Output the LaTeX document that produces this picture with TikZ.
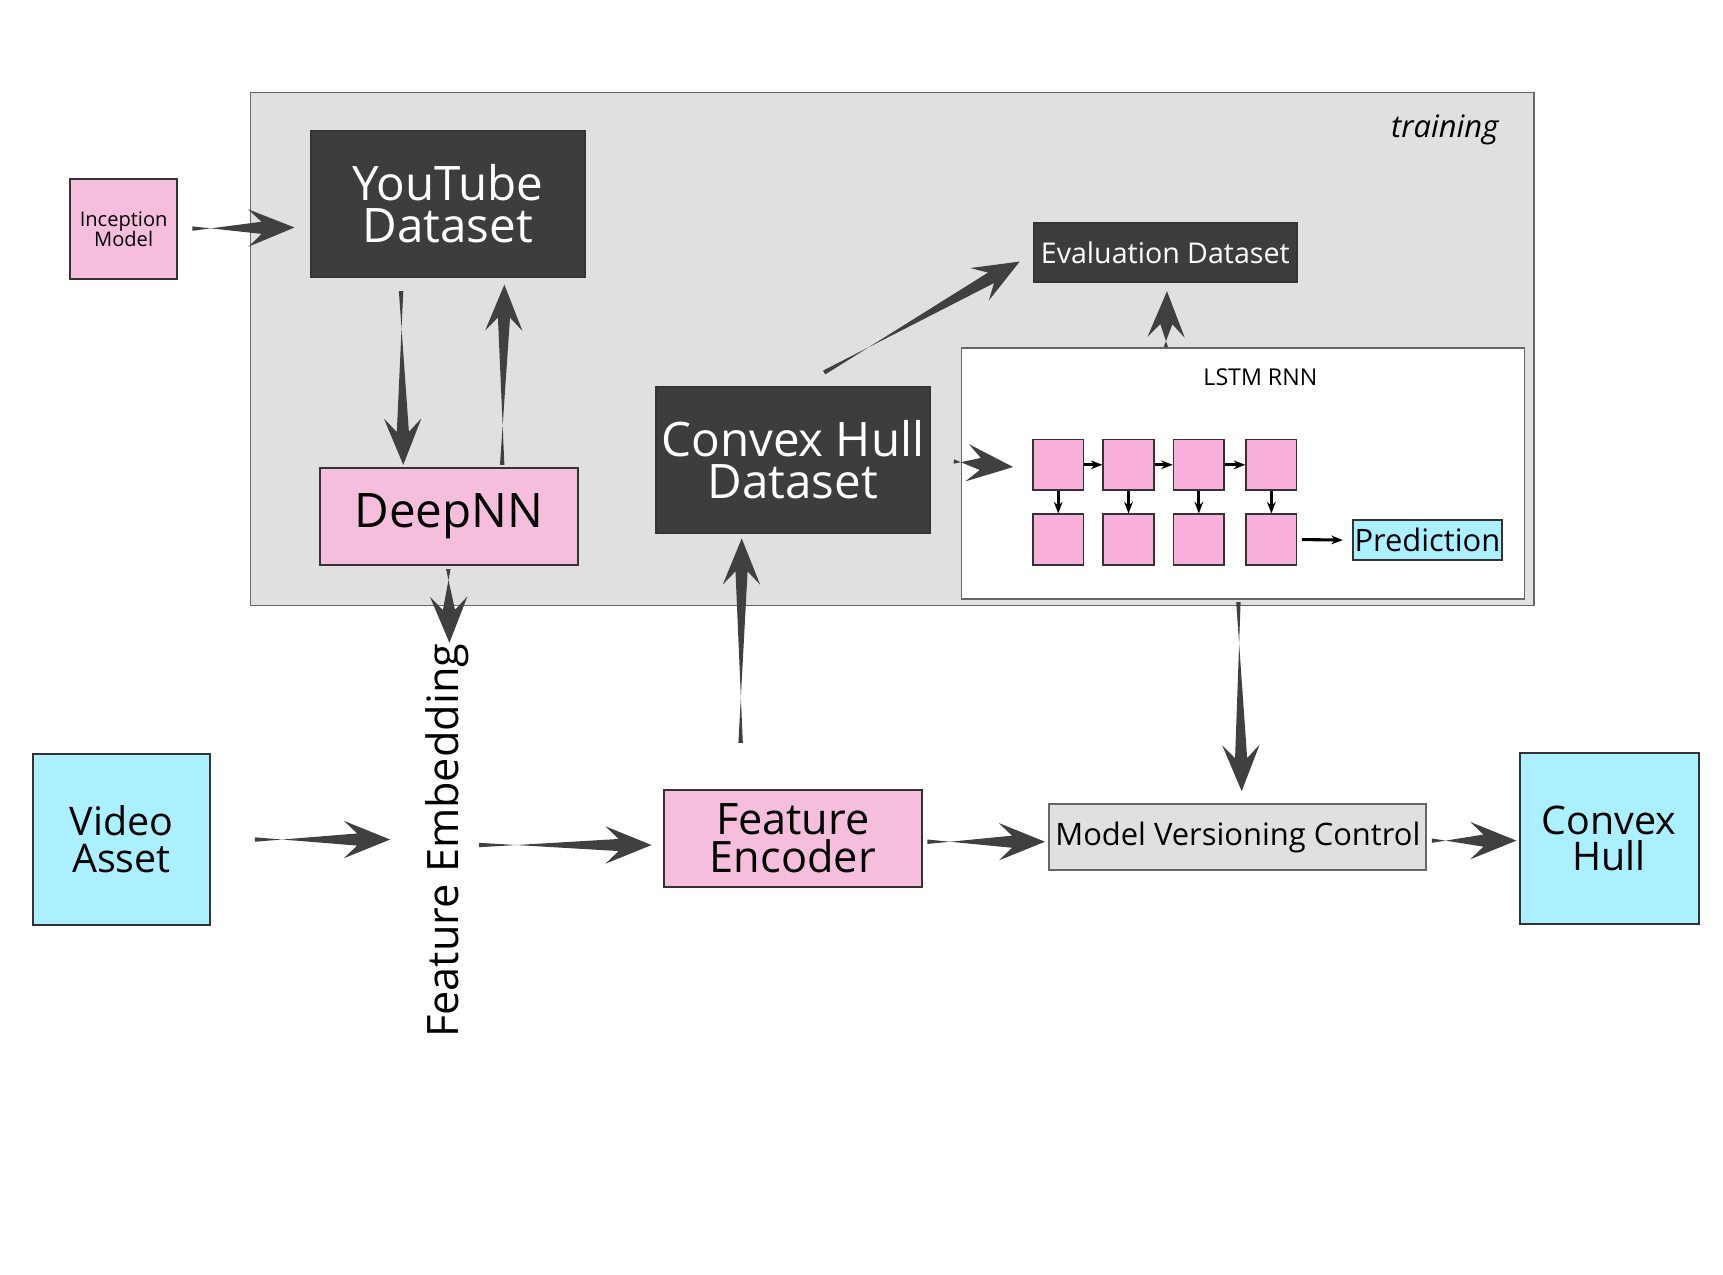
\documentclass[tikz,border=0pt]{standalone}
\usepackage{fontspec}
\setmainfont{Open Sans}
\usetikzlibrary{calc,arrows.meta}
\definecolor{arrowc}{HTML}{404040}
\definecolor{dark}{HTML}{3D3D3D}
\definecolor{pinkb}{HTML}{F4BEDC}
\definecolor{sq}{HTML}{F9B1DC}
\definecolor{cyanb}{HTML}{AAF0FF}
\definecolor{grayb}{HTML}{E0E0E0}
\newcommand\farrow[2]{%
  \coordinate (fa) at (#1); \coordinate (fb) at (#2);
  \coordinate (fn) at ($(fb)!0.30cm!(fa)$);
  \coordinate (fk) at ($(fb)!0.42cm!(fa)$);
  \fill[arrowc] ($(fa)!0.02cm!90:(fb)$) -- ($(fn)!0.055cm!-90:(fb)$) -- ($(fk)!0.17cm!-90:(fb)$)
    -- (fb) -- ($(fk)!0.17cm!90:(fb)$) -- ($(fn)!0.055cm!90:(fb)$) -- ($(fa)!0.02cm!-90:(fb)$) -- cycle;}
\tikzset{
  box/.style={draw=black!80, line width=0.5pt, inner sep=0pt, align=center, font=#1},
  darkbox/.style={box=#1, fill=dark, text=white},
  pinkbox/.style={box=#1, fill=pinkb},
  cyanbox/.style={box=#1, fill=cyanb},
  sqr/.style={draw=black!80, fill=sq, minimum width=0.46cm, minimum height=0.46cm, inner sep=0pt},
  small/.style={-{Stealth[length=3pt]}, line width=0.8pt},
}
\begin{document}
\begin{tikzpicture}[x=0.01cm,y=-0.01cm]
\useasboundingbox (0,0) rectangle (1568,1160);
\fill[white] (0,0) rectangle (1568,1160);
% training area
\draw[fill=grayb, draw=black!60] (228,84) rectangle (1396,551);
\node[font=\fontsize{8}{9}\selectfont\itshape, anchor=east] (tr) at (1376,118) {training};
% nodes
\node[pinkbox=\fontsize{5.2}{5.2}\selectfont, minimum width=0.97cm, minimum height=0.91cm] (inc) at (112.5,208.5) {Inception\\Model};
\node[darkbox=\fontsize{12.3}{11}\selectfont, minimum width=2.49cm, minimum height=1.33cm] (yt) at (407.5,185.5) {YouTube\\Dataset};
\node[pinkbox=\fontsize{12.3}{12}\selectfont, minimum width=2.35cm, minimum height=0.88cm] (dnn) at (408.5,470) {DeepNN};
\node[darkbox=\fontsize{12.3}{11}\selectfont, minimum width=2.49cm, minimum height=1.33cm] (chd) at (721.5,418.5) {Convex Hull\\Dataset};
\node[darkbox=\fontsize{7.4}{8}\selectfont, minimum width=2.39cm, minimum height=0.54cm] (ev) at (1060.5,230) {Evaluation Dataset};
\node[draw=black!60, fill=white, minimum width=5.12cm, minimum height=2.28cm, inner sep=0pt] (lstm) at (1131,431) {};
\node[font=\fontsize{6}{6}\selectfont] (lstml) at (1147,343) {LSTM RNN};
\foreach \i/\x in {1/963,2/1027,3/1091,4/1157}{
  \node[sqr] (t\i) at (\x,423) {};
  \node[sqr] (b\i) at (\x,491) {};
  \draw[small] (t\i) -- (b\i);
}
\foreach \i/\j in {1/2,2/3,3/4}{ \draw[small] (t\i) -- (t\j); }
\node[cyanbox=\fontsize{8}{8}\selectfont, minimum width=1.36cm, minimum height=0.37cm] (pred) at (1299,491.5) {Prediction};
\draw[small] (b4.east) ++(4,0) -- ($(pred.west)+(-8,0)$);
\node[cyanbox=\fontsize{10.2}{9.5}\selectfont, minimum width=1.61cm, minimum height=1.56cm] (va) at (110.5,764) {Video\\Asset};
\node[font=\fontsize{11.2}{11}\selectfont, rotate=90] (fe) at (407,765) {Feature Embedding};
\node[pinkbox=\fontsize{11.2}{10}\selectfont, minimum width=2.35cm, minimum height=0.88cm] (fenc) at (721.5,763) {Feature\\Encoder};
\node[box=\fontsize{8}{8}\selectfont, fill=grayb, draw=black!60, minimum width=3.43cm, minimum height=0.60cm] (mvc) at (1126.5,762) {Model Versioning Control};
\node[cyanbox=\fontsize{10.2}{9.5}\selectfont, minimum width=1.63cm, minimum height=1.56cm] (ch) at (1464.5,763) {Convex\\Hull};
% fat arrows
\farrow{175,208}{268,207}
\farrow{365,265}{367,423}
\farrow{457,423}{459,259}
\farrow{408,518}{409,585}
\farrow{750,339}{928,238}
\farrow{1061,316}{1062,265}
\farrow{868,420}{922,425}
\farrow{674,676}{675,490}
\farrow{1127,548}{1130,720}
\farrow{232,764}{355,764}
\farrow{436,769}{593,769}
\farrow{844,766}{951,766}
\farrow{1303,765}{1380,765}
\end{tikzpicture}
\end{document}
